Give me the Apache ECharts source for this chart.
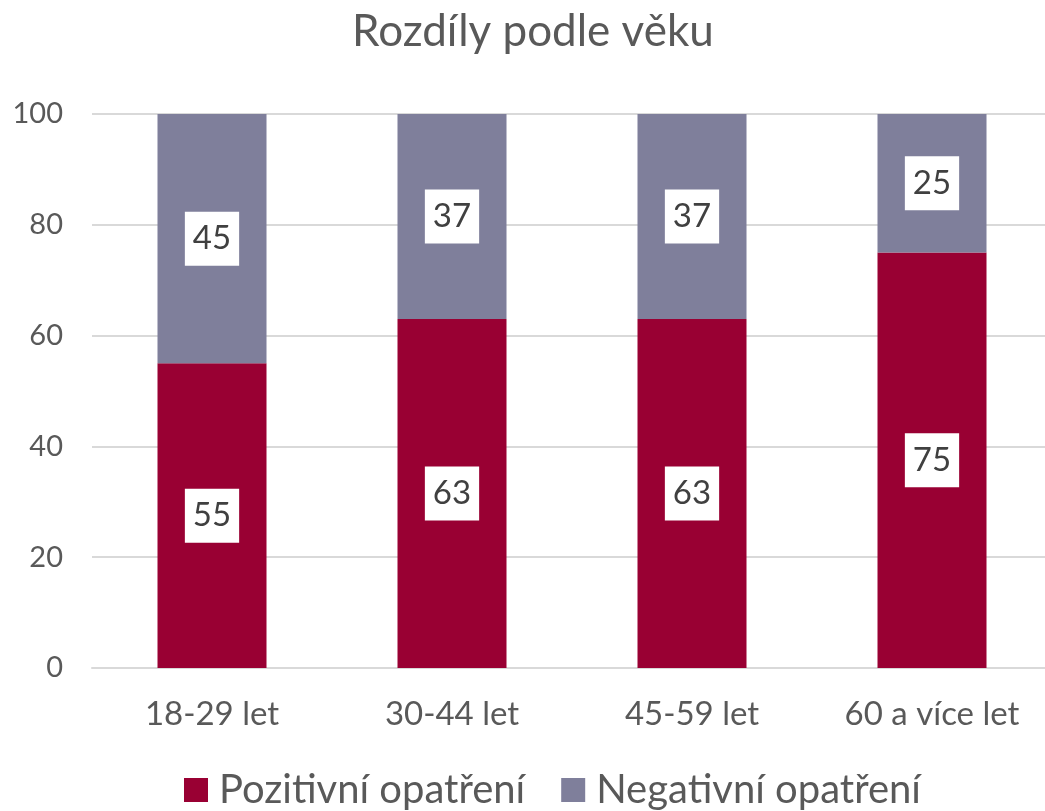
<!DOCTYPE html>
<html>
<head>
<meta charset="utf-8">
<script src="https://cdn.jsdelivr.net/npm/echarts@6/dist/echarts.min.js"></script>
<style>
  html, body { margin: 0; padding: 0; background: #fff; }
  #main { width: 1045px; height: 811px; }
</style>
</head>
<body>
<div id="main"></div>
<script>
	// data
	var categories = ['18-29 let', '30-44 let', '45-59 let', '60 a více let'];
	var positive = [55, 63, 63, 75];
	var negative = [45, 37, 37, 25];
	var yTicks = [0, 20, 40, 60, 80, 100];

	var myChart = echarts.init(document.getElementById('main'));
	var font = 'Lato';

	var barLabel = {
		show: true,
		position: 'inside',
		color: '#404040',
		fontFamily: font,
		fontSize: 33,
		backgroundColor: '#fff',
		padding: [11, 8, 9, 8],
		lineHeight: 34
	};

	var option = {
		animation: false,
		title: {
			text: 'Rozdíly podle věku',
			left: 347,
			top: 5,
			textStyle: { color: '#595959', fontFamily: font, fontSize: 44, fontWeight: 'normal' }
		},
		grid: { left: 92, top: 114, width: 960, height: 554, containLabel: false, outerBoundsMode: 'none' },
		legend: {
			bottom: -4,
			left: 179,
			itemWidth: 24,
			itemHeight: 24,
			itemGap: 36,
			icon: 'rect',
			textStyle: { color: '#595959', fontFamily: font, fontSize: 40, padding: [0, 0, 0, 6] },
			data: ['Pozitivní opatření', 'Negativní opatření']
		},
		xAxis: {
			type: 'category',
			data: categories,
			axisLine: { lineStyle: { color: '#d9d9d9', width: 2 } },
			axisTick: { show: false },
			axisLabel: { color: '#595959', fontFamily: font, fontSize: 33, margin: 30 }
		},
		yAxis: {
			type: 'value',
			min: yTicks[0],
			max: yTicks[yTicks.length - 1],
			interval: 20,
			axisLine: { show: false },
			axisTick: { show: false },
			splitLine: { lineStyle: { color: '#d9d9d9', width: 2 } },
			axisLabel: { color: '#595959', fontFamily: font, fontSize: 29, margin: 29 }
		},
		series: [
			{
				name: 'Pozitivní opatření',
				type: 'bar',
				stack: 'total',
				barWidth: 109,
				itemStyle: { color: '#990033' },
				label: barLabel,
				data: positive
			},
			{
				name: 'Negativní opatření',
				type: 'bar',
				stack: 'total',
				barWidth: 109,
				itemStyle: { color: '#7f7f9b' },
				label: barLabel,
				data: negative
			}
		]
	};

	myChart.setOption(option);
</script>
</body>
</html>
